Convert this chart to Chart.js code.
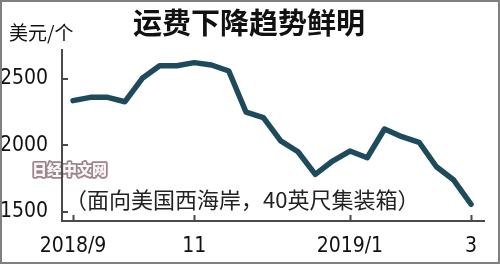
<!DOCTYPE html>
<html>
<head>
<meta charset="utf-8">
<script src="https://cdn.jsdelivr.net/npm/chart.js@4.4.1/dist/chart.umd.min.js"></script>
<style>
  html, body { margin: 0; padding: 0; background: #fff; }
  #wrap { width: 500px; height: 264px; }
</style>
</head>
<body>
<div id="wrap"><canvas id="freight" width="500" height="264"></canvas></div>
<script>
// weekly freight rate, USD per 40ft container (US west coast)
const weeks = [
    '2018/9', '', '', '', '', '', '', '11', '', '', '', '',
    '', '', '', '', '2019/1', '', '', '', '', '', '', '3'
];
const rates = [
    2337, 2362, 2362, 2329, 2505, 2600, 2600, 2623, 2605, 2560, 2250, 2209,
    2034, 1953, 1783, 1883, 1958, 1908, 2124, 2066, 2024, 1840, 1740, 1558
];
const yTicks = [1500, 2000, 2500];
const xTickIdx = [0, 7, 16, 23];

const titleText = '运费下降趋势鲜明';
const unitText = '美元/个';
const noteText = '（面向美国西海岸，40英尺集装箱）';
const markText = '日经中文网';

const FONT = "'Noto Sans CJK SC', 'Noto Sans', sans-serif";
const NUM_FONT = "'Liberation Sans Narrow', 'DejaVu Sans Condensed', 'Noto Sans CJK SC', sans-serif";
const AXIS_COLOR = '#4a4a4a';

// background and watermark (drawn under the axes)
const backdrop = {
    id: 'backdrop',
    beforeDraw(chart) {
        const { ctx, width, height } = chart;
        ctx.save();
        ctx.fillStyle = '#fff';
        ctx.fillRect(0, 0, width, height);

        ctx.font = "900 15px " + FONT;
        ctx.textAlign = 'left';
        ctx.textBaseline = 'middle';
        ctx.lineJoin = 'round';
        ctx.lineWidth = 3.5;
        ctx.strokeStyle = '#9c868d';
        ctx.strokeText(markText, 32, 169);
        ctx.fillStyle = '#faf6f7';
        ctx.fillText(markText, 32, 169);
        ctx.restore();
    }
};

// inward tick marks, texts and outer frame
const overlay = {
    id: 'overlay',
    afterDraw(chart) {
        const { ctx, width, height, chartArea } = chart;
        const xs = chart.scales.x, ys = chart.scales.y;
        ctx.save();
        ctx.strokeStyle = AXIS_COLOR;
        ctx.lineWidth = 2;
        ctx.beginPath();
        xTickIdx.forEach(i => {
            const px = Math.round(xs.getPixelForValue(i)) + 0.5;
            ctx.moveTo(px, chartArea.bottom);
            ctx.lineTo(px, chartArea.bottom - 6);
        });
        yTicks.forEach(v => {
            const py = Math.round(ys.getPixelForValue(v));
            ctx.moveTo(chartArea.left - 1, py);
            ctx.lineTo(chartArea.left + 6, py);
        });
        ctx.stroke();

        ctx.fillStyle = '#111';
        ctx.textBaseline = 'middle';
        ctx.textAlign = 'center';
        ctx.font = "bold 29px " + FONT;
        ctx.fillText(titleText, 249, 23);

        ctx.textAlign = 'left';
        ctx.font = "19px " + FONT;
        ctx.fillText(unitText, 9, 33);

        ctx.fillStyle = '#222';
        ctx.font = "22px " + FONT;
        ctx.fillText(noteText, 65, 200);

        ctx.strokeStyle = '#808080';
        ctx.lineWidth = 2;
        ctx.strokeRect(1, 1, width - 2, height - 2);
        ctx.restore();
    }
};

new Chart(document.getElementById('freight'), {
    type: 'line',
    data: {
        datasets: [{
            data: rates.map((v, i) => ({ x: i, y: v })),
            borderColor: '#1d4b5b',
            borderWidth: 5.5,
            borderJoinStyle: 'round',
            borderCapStyle: 'round',
            pointRadius: 0,
            tension: 0,
            fill: false
        }]
    },
    options: {
        responsive: false,
        animation: false,
        layout: { padding: { top: 50, right: 16, left: 0, bottom: 0 } },
        plugins: {
            legend: { display: false },
            tooltip: { enabled: false },
            title: { display: false }
        },
        scales: {
            x: {
                type: 'linear',
                min: -0.64,
                max: 23.75,
                afterBuildTicks: (scale) => {
                    scale.ticks = xTickIdx.map(i => ({ value: i }));
                },
                afterFit: (scale) => { scale.height = 43; },
                grid: { display: false },
                border: { color: AXIS_COLOR, width: 2 },
                ticks: {
                    autoSkip: false,
                    maxRotation: 0,
                    padding: 5,
                    color: '#111',
                    font: { family: NUM_FONT, size: 21 },
                    callback: (v) => weeks[v]
                }
            },
            y: {
                min: 1432,
                max: 2718,
                afterBuildTicks: (scale) => {
                    scale.ticks = yTicks.map(v => ({ value: v }));
                },
                afterFit: (scale) => { scale.width = 62; },
                grid: { display: false },
                border: { color: AXIS_COLOR, width: 2 },
                ticks: {
                    padding: 6,
                    color: '#111',
                    font: { family: NUM_FONT, size: 21 },
                    callback: (v) => String(v)
                }
            }
        }
    },
    plugins: [backdrop, overlay]
});
</script>
</body>
</html>
